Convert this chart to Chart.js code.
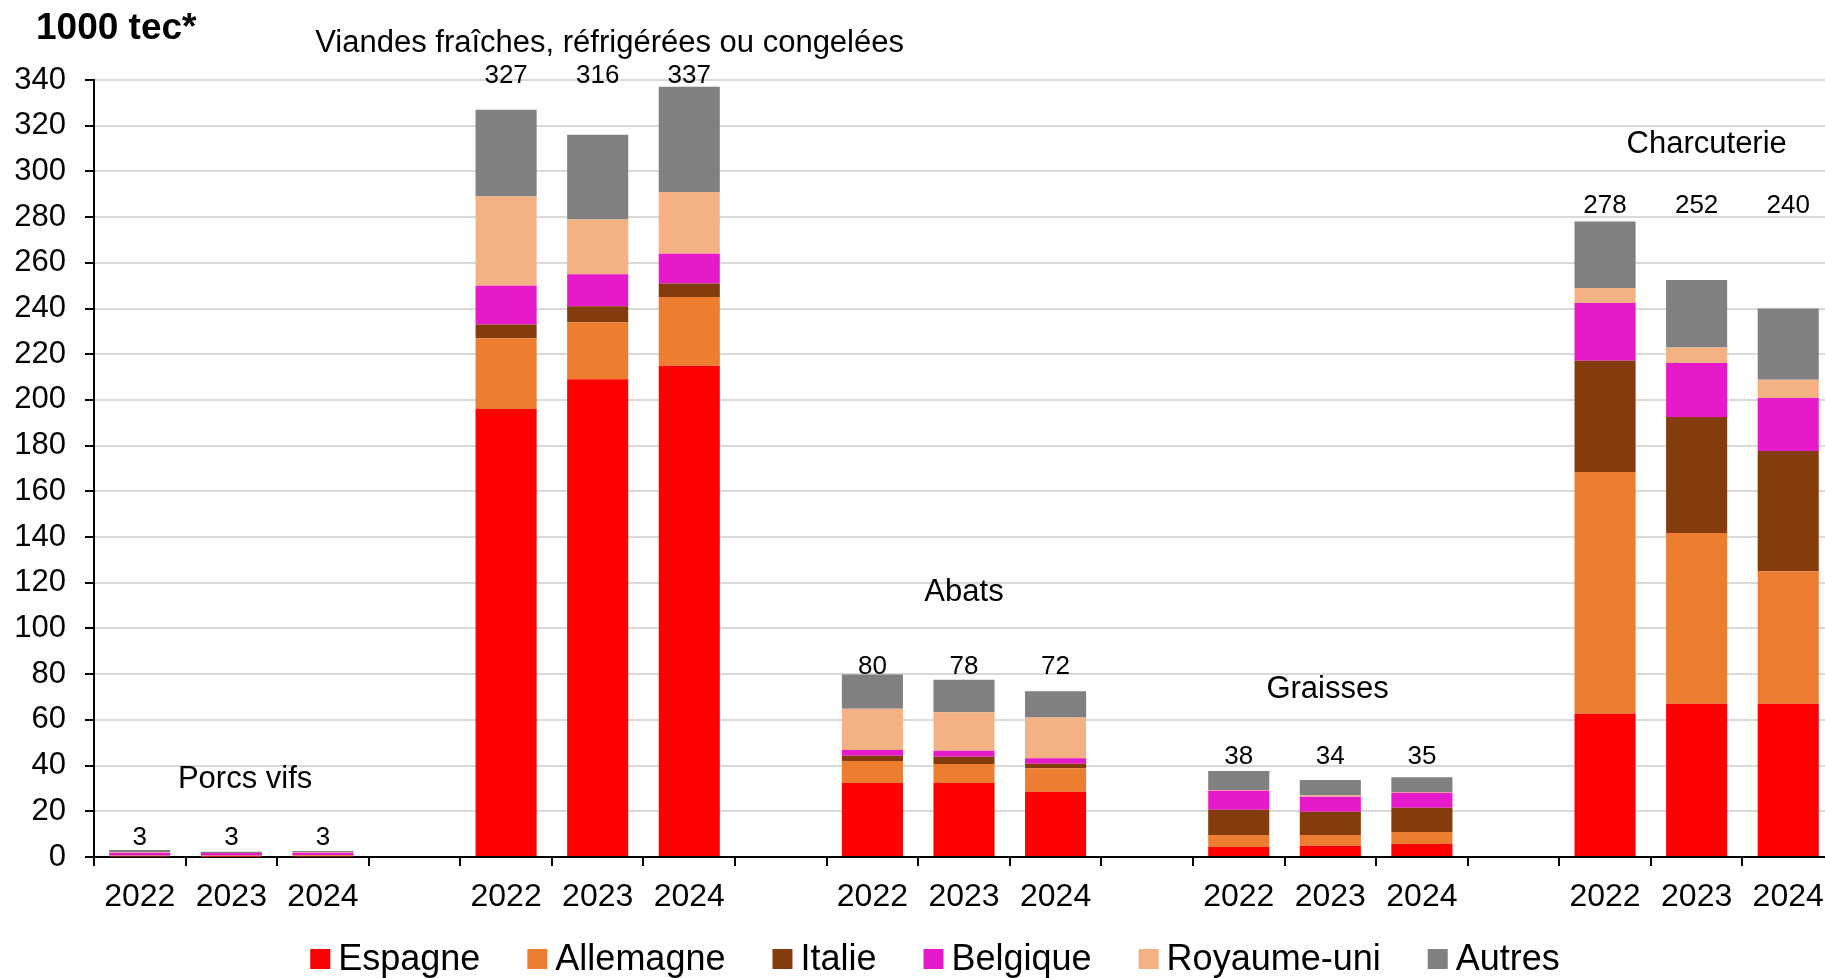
<!DOCTYPE html>
<html lang="fr">
<head>
<meta charset="utf-8">
<script src="https://cdn.jsdelivr.net/npm/chart.js@4.4.1/dist/chart.umd.min.js"></script>
<style>
  html, body { margin: 0; padding: 0; background: #fff; overflow: hidden; }
  #wrap { position: relative; width: 1840px; height: 978px; }
</style>
</head>
<body>
<div id="wrap"><canvas id="chart" width="1840" height="978"></canvas></div>
<script>
// ---- données (1000 tec) ----
const xLabels = ['2022', '2023', '2024', '', '2022', '2023', '2024', '', '2022', '2023', '2024', '',
  '2022', '2023', '2024', '', '2022', '2023', '2024'];
const groupTitles = ['Porcs vifs', 'Viandes fraîches, réfrigérées ou congelées', 'Abats', 'Graisses', 'Charcuterie'];

const espagne   = [0.3, 0.2, 0.3, null, 196, 209, 215, null, 32.4, 32.4, 28.6, null, 4.4, 4.9, 5.7, null, 62.7, 67.1, 67.1];
const allemagne = [0.3, 0.4, 0.5, null, 31, 25, 30, null, 9.6, 8.3, 10.2, null, 5.2, 4.7, 5.2, null, 105.8, 74.7, 57.9];
const italie    = [0.1, 0.1, 0.1, null, 6, 7, 6, null, 2.3, 3.2, 2.0, null, 11.1, 10.2, 10.7, null, 48.7, 50.7, 52.7];
const belgique  = [1.2, 1.0, 1.0, null, 17, 14, 13, null, 2.5, 2.6, 2.4, null, 8.3, 6.6, 6.5, null, 25.2, 23.7, 23.2];
const royaume   = [0.2, 0.1, 0.2, null, 39, 24, 27, null, 18.1, 16.8, 17.8, null, 0.3, 0.5, 0.3, 0.4, 6.6, 6.8, 7.9];
const autres    = [1.0, 0.5, 0.5, null, 38, 37, 46, null, 15.0, 14.3, 11.5, null, 8.3, 6.8, 6.5, null, 29.1, 29.5, 31.2];
const totals    = [3, 3, 3, null, 327, 316, 337, null, 80, 78, 72, null, 38, 34, 35, null, 278, 252, 240];

const yTicks = { min: 0, max: 340, step: 20 };

// ---- placement des titres de groupe (index de catégorie, valeur y) et écart des totaux (px) ----
const titlePlacement = [[1.15, 33.8], [5.13, 356], [9.0, 115.8], [12.97, 73.2], [17.11, 311.8]];
const totalGap = [12, 11, 7, 13, 16];

const FONT = '"Liberation Sans", Arial, sans-serif';
Chart.defaults.font.family = FONT;
Chart.defaults.color = '#000';

// groupes = suites de libellés non vides
function groupRanges() {
  const out = [];
  let start = null;
  xLabels.forEach((l, i) => {
    if (l && start === null) start = i;
    if ((!l || i === xLabels.length - 1) && start !== null) {
      out.push([start, l ? i : i - 1]);
      start = null;
    }
  });
  return out;
}

// ---- libellés : totaux, titres, unité, légende ----
const overlayPlugin = {
  id: 'overlay',
  afterDatasetsDraw(chart) {
    const { ctx, scales: { x, y } } = chart;
    ctx.save();
    ctx.fillStyle = '#000';
    ctx.textAlign = 'center';
    ctx.textBaseline = 'middle';

    // totaux au-dessus des barres (même hauteur dans un groupe)
    ctx.font = `26px ${FONT}`;
    groupRanges().forEach(([a, b], g) => {
      const top = Math.max(...totals.slice(a, b + 1));
      const yy = y.getPixelForValue(top) - totalGap[g];
      for (let i = a; i <= b; i++) {
        if (totals[i] !== null) ctx.fillText(String(totals[i]), x.getPixelForValue(i), yy);
      }
    });

    // titres de groupe
    ctx.font = `31px ${FONT}`;
    groupTitles.forEach((t, i) => {
      const [c, v] = titlePlacement[i];
      ctx.fillText(t, x.getPixelForValue(c), y.getPixelForValue(v));
    });

    // unité
    ctx.textAlign = 'left';
    ctx.font = `bold 37px ${FONT}`;
    ctx.fillText('1000 tec*', 36, 29);
    ctx.restore();
  },
  afterDraw(chart) {
    // légende horizontale centrée sous l'axe
    const { ctx } = chart;
    const box = 20, gapText = 8, gapItem = 47, cy = 959, cx = 935;
    ctx.save();
    ctx.font = `36px ${FONT}`;
    ctx.textBaseline = 'middle';
    ctx.textAlign = 'left';
    const items = chart.data.datasets.map((d) => ({
      label: d.label, color: d.backgroundColor, w: ctx.measureText(d.label).width,
    }));
    const total = items.reduce((s, it) => s + box + gapText + it.w, 0) + gapItem * (items.length - 1);
    let px = cx - total / 2;
    items.forEach((it) => {
      ctx.fillStyle = it.color;
      ctx.fillRect(px, cy - box / 2, box, box);
      ctx.fillStyle = '#000';
      ctx.fillText(it.label, px + box + gapText, cy + 1);
      px += box + gapText + it.w + gapItem;
    });
    ctx.restore();
  },
};

const series = [
  ['Espagne', espagne, '#ff0000'],
  ['Allemagne', allemagne, '#ed7d31'],
  ['Italie', italie, '#843c0c'],
  ['Belgique', belgique, '#e61acb'],
  ['Royaume-uni', royaume, '#f4b183'],
  ['Autres', autres, '#808080'],
];

new Chart(document.getElementById('chart'), {
  type: 'bar',
  data: {
    labels: xLabels,
    datasets: series.map(([label, data, color]) => ({
      label,
      data,
      backgroundColor: color,
      borderWidth: 0,
      barPercentage: 1,
      categoryPercentage: 0.667,
    })),
  },
  options: {
    responsive: false,
    animation: false,
    layout: { padding: { top: 80, right: 6, left: 0, bottom: 61 } },
    plugins: {
      tooltip: { enabled: false },
      legend: { display: false },
    },
    scales: {
      x: {
        stacked: true,
        grid: { offset: true, drawOnChartArea: false, color: '#000', lineWidth: 2, tickLength: 9 },
        border: { color: '#000', width: 2 },
        ticks: { font: { size: 32 }, color: '#000', padding: 12, maxRotation: 0, autoSkip: false },
        afterFit: (s) => { s.height = 60; },
      },
      y: {
        stacked: true,
        min: yTicks.min,
        max: yTicks.max,
        ticks: { stepSize: yTicks.step, font: { size: 31 }, color: '#000', padding: 19 },
        grid: { color: '#d9d9d9', lineWidth: 2, tickColor: '#000', tickLength: 9 },
        border: { color: '#000', width: 2 },
        afterFit: (s) => { s.width = 94; },
      },
    },
  },
  plugins: [overlayPlugin],
});
</script>
</body>
</html>
